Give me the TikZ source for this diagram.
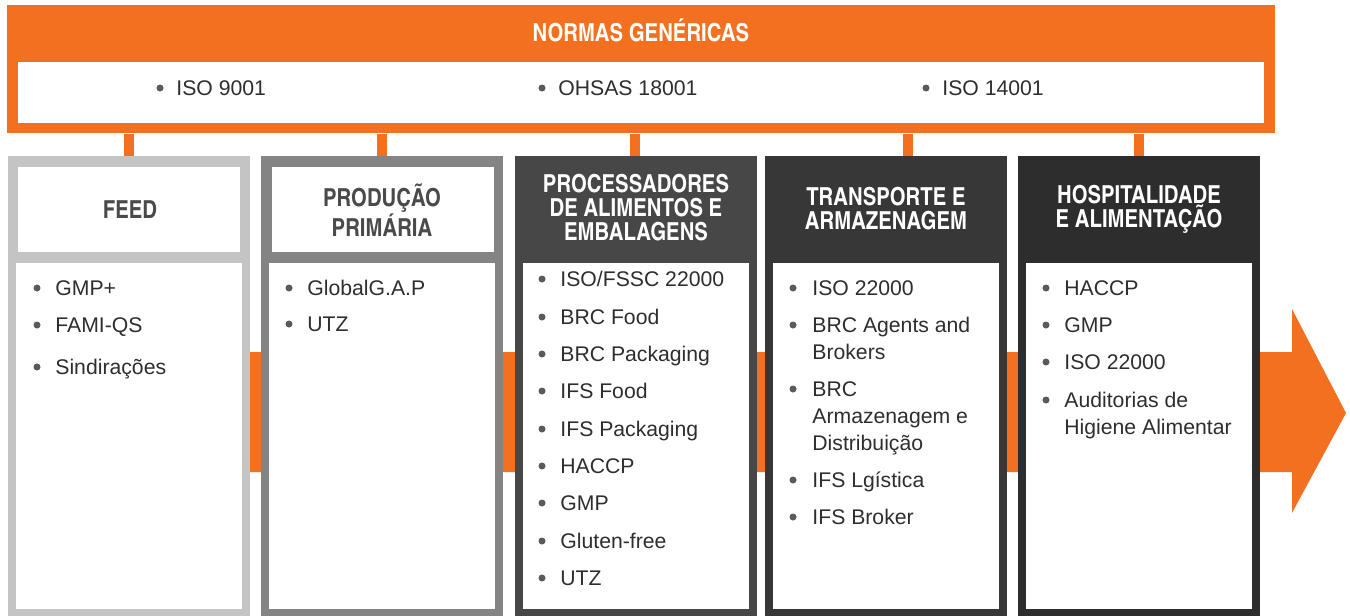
\documentclass[tikz,border=0pt]{standalone}
\usepackage{fontspec}
\setmainfont{Liberation Sans}
\newfontfamily\headfont{TeX Gyre Heros Cn}
\usetikzlibrary{positioning}
\definecolor{normorange}{HTML}{F37021}
\definecolor{feedgray}{HTML}{C4C4C4}
\definecolor{prodgray}{HTML}{848484}
\definecolor{procgray}{HTML}{474747}
\definecolor{transgray}{HTML}{373737}
\definecolor{hospgray}{HTML}{2D2D2D}
\definecolor{textgray}{HTML}{2E2E2E}
\definecolor{dotgray}{HTML}{5A5A5A}
\definecolor{headgray}{HTML}{4A4A4A}
\tikzset{
    colframe/.style={inner sep=0pt, anchor=north west, minimum width=121pt, minimum height=230pt},
    colbody/.style={fill=white, inner sep=0pt, anchor=north west, minimum width=113pt, minimum height=173pt},
    headbox/.style={fill=white, inner sep=0pt, anchor=north west, minimum width=111pt, minimum height=42.5pt},
    headtext/.style={font=\headfont\bfseries\fontsize{12.4}{12}\selectfont, align=center, inner sep=0pt},
    item/.style={font=\fontsize{10.6}{13.5}\selectfont, text=textgray, align=left, anchor=north west, inner sep=0pt},
    stub/.style={draw=normorange, line width=5pt},
  }

\begin{document}
\begin{tikzpicture}[x=0.5pt,y=-0.5pt]
	\useasboundingbox (0,0) rectangle (1350,616);

	% big arrow behind the columns
	\fill[normorange] (8,352) -- (1292,352) -- (1292,309) -- (1346,413) -- (1292,513) -- (1292,472) -- (8,472) -- cycle;

	\node[fill=normorange, inner sep=0pt, anchor=north west, minimum width=634pt, minimum height=64pt] (banner) at (7,5) {};
	\node[fill=white, inner sep=0pt, anchor=north west, minimum width=623pt, minimum height=30.5pt] (isobox) at (18,62) {};
	\node[headtext, text=white] (normas) at (641,30) {NORMAS GENÉRICAS};

	\foreach \x/\txt [count=\k] in {176/ISO 9001, 558/OHSAS 18001, 942/ISO 14001}{
		\fill[dotgray] (\x-16,88) circle (1.75pt);
		\node[item] (top\k) at (\x,88-11.4) {\strut\txt};
	}

	\foreach \n/\xx/\fc in {1/8/feedgray, 2/261/prodgray, 3/515/procgray, 4/765/transgray, 5/1018/hospgray}{
		\node[colframe, fill=\fc] (col\n) at (\xx,156) {};
		\node[colbody] (body\n) at (\xx+8,263) {};
	}
	\node[headbox] (hbox1) at (18,167) {};
	\node[headbox] (hbox2) at (272,167) {};

	\foreach \n/\dx in {1/0, 2/0, 3/-1, 4/22, 5/0}{
		\draw[stub] (col\n.north) ++(\dx,0) coordinate (s\n) -- (s\n |- banner.south);
	}

	\node[headtext, text=headgray] (head1) at (130,210) {FEED};
	\node[headtext, text=headgray] (head2) at (382,210) {PRODUÇÃO\\PRIMÁRIA};
	\node[headtext, text=white] (head3) at (636,208) {PROCESSADORES\\DE ALIMENTOS E\\EMBALAGENS};
	\node[headtext, text=white] (head4) at (886,209) {TRANSPORTE E\\ARMAZENAGEM};
	\node[headtext, text=white] (head5) at (1139,209) {HOSPITALIDADE\\E ALIMENTAÇÃO};

	\foreach \y/\txt [count=\k] in {288/GMP+, 325/FAMI-QS, 367/Sindirações}{
		\fill[dotgray] (37,\y) circle (1.75pt);
		\node[item] (feed\k) at (55,\y-11.4) {\strut\txt};
	}
	\foreach \y/\txt [count=\k] in {288/GlobalG.A.P, 324/UTZ}{
		\fill[dotgray] (289,\y) circle (1.75pt);
		\node[item] (prod\k) at (307,\y-11.4) {\strut\txt};
	}
	\foreach \y/\txt [count=\k] in {279/{ISO/FSSC 22000}, 317/BRC Food, 354/BRC Packaging, 391/IFS Food, 429/IFS Packaging, 466/HACCP, 503/GMP, 541/Gluten-free, 578/UTZ}{
		\fill[dotgray] (542,\y) circle (1.75pt);
		\node[item] (proc\k) at (560,\y-11.4) {\strut\txt};
	}
	\foreach \y/\txt [count=\k] in {288/ISO 22000, 325/{BRC Agents and\\Brokers}, 389/{BRC\\Armazenagem e\\Distribuição}, 480/IFS Lgística, 517/IFS Broker}{
		\fill[dotgray] (793,\y) circle (1.75pt);
		\node[item] (trans\k) at (812,\y-11.4) {\strut\txt};
	}
	\foreach \y/\txt [count=\k] in {288/HACCP, 325/GMP, 362/ISO 22000, 400/{Auditorias de\\Higiene Alimentar}}{
		\fill[dotgray] (1046,\y) circle (1.75pt);
		\node[item] (hosp\k) at (1064,\y-11.4) {\strut\txt};
	}
\end{tikzpicture}
\end{document}
